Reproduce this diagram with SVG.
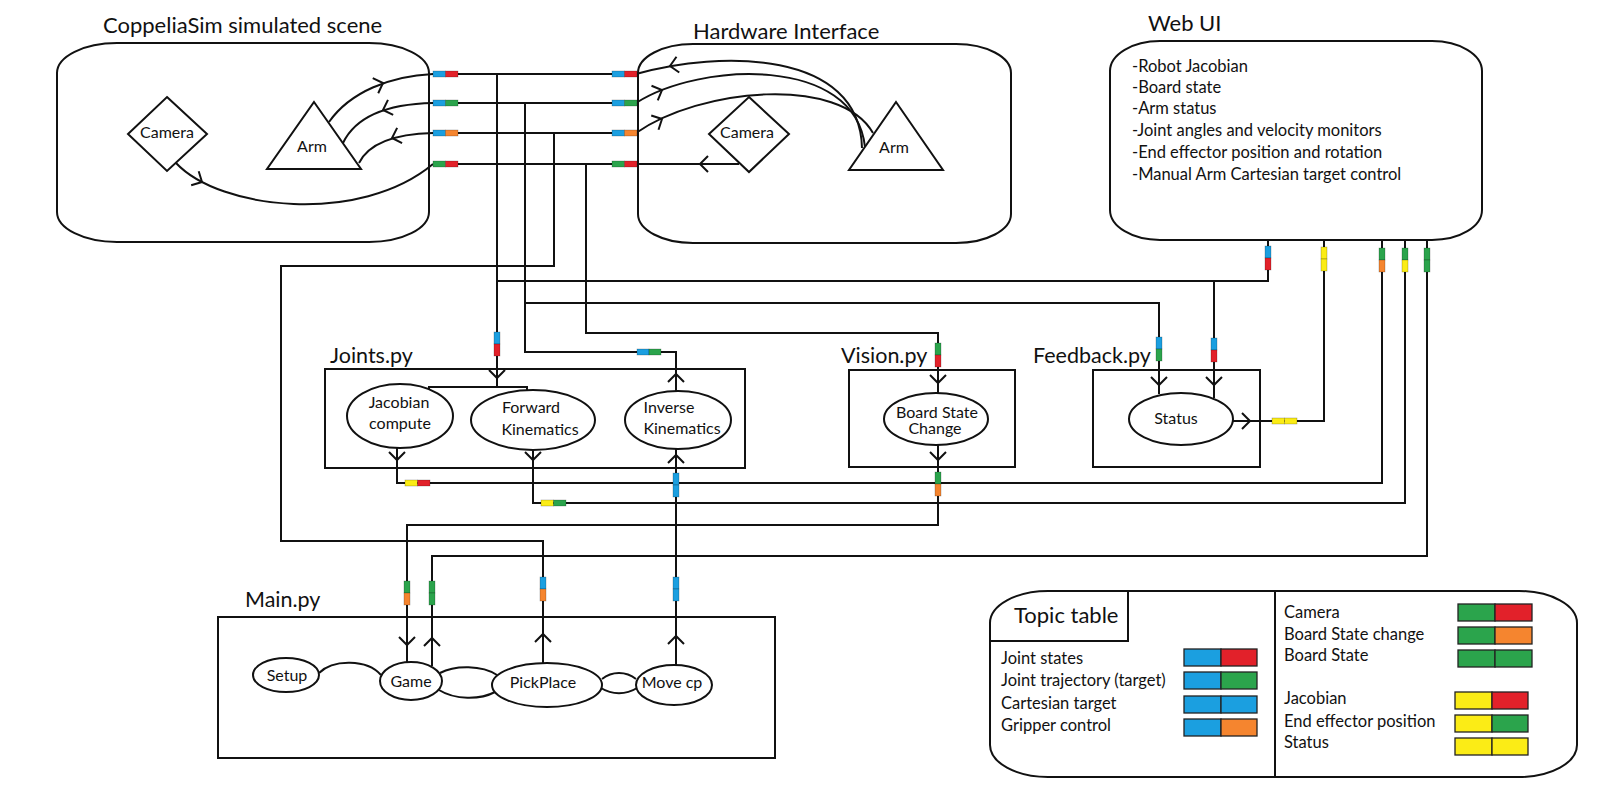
<svg xmlns="http://www.w3.org/2000/svg" xmlns:xlink="http://www.w3.org/1999/xlink" width="1600" height="798" viewBox="0 0 1600 798">
<style>
.ln{fill:none;stroke:#111;stroke-width:2}
.bx{fill:none;stroke:#111;stroke-width:2}
.sh{fill:#fff;stroke:#111;stroke-width:2}
.t{font-family:Lato,"Liberation Sans",sans-serif;font-size:16.5px;fill:#111}
.n{font-family:Lato,"Liberation Sans",sans-serif;font-size:16px;fill:#111;text-anchor:middle}
.tt{font-family:Lato,"Liberation Sans",sans-serif;font-size:22px;fill:#111}
.tm{font-family:Lato,"Liberation Sans",sans-serif;font-size:21.5px;fill:#111}
.B{fill:#1b9fe0}.R{fill:#e2212a}.G{fill:#2ba44c}.O{fill:#f5852f}.Y{fill:#fbec16}
.tg rect{stroke:rgba(0,0,0,0.35);stroke-width:0.6}
.sw rect{stroke:#222;stroke-width:1.3}
</style>
<defs>
<path id="ch" d="M-8,-8 L0,0 L-8,8" fill="none" stroke="#111" stroke-width="2"/>
</defs>
<rect width="1600" height="798" fill="#fff"/>

<g id="coppelia">
<rect class="bx" x="57" y="43" width="372" height="199" rx="60" ry="30"/>
<text class="tt" x="103" y="33">CoppeliaSim simulated scene</text>
</g>
<g id="sim-camera">
<polygon class="sh" points="167,97 207,134 167,171 128,134"/>
<text class="n" x="167" y="138">Camera</text>
</g>
<g id="sim-arm">
<polygon class="sh" points="314,102 361,169 267,169"/>
<text class="n" x="312" y="152">Arm</text>
</g>

<g id="hardware">
<rect class="bx" x="638" y="44" width="373" height="199" rx="55" ry="29"/>
<text class="tt" x="693" y="39">Hardware Interface</text>
</g>
<g id="hw-camera">
<polygon class="sh" points="749,97 789,134 749,172 709,134"/>
<text class="n" x="747" y="138">Camera</text>
</g>
<g id="hw-arm">
<polygon class="bx" points="896,102 943,170 849,170"/>
<text class="n" x="894" y="153">Arm</text>
</g>

<g id="webui">
<rect class="bx" x="1110" y="41" width="372" height="199" rx="50" ry="30"/>
<text class="tt" x="1148" y="31">Web UI</text>
<text class="t" x="1132" y="72">-Robot Jacobian</text>
<text class="t" x="1132" y="93">-Board state</text>
<text class="t" x="1132" y="114">-Arm status</text>
<text class="t" x="1132" y="136">-Joint angles and velocity monitors</text>
<text class="t" x="1132" y="158">-End effector position and rotation</text>
<text class="t" x="1132" y="180">-Manual Arm Cartesian target control</text>
</g>

<g id="joints">
<rect class="bx" x="325" y="369" width="420" height="99"/>
<text class="tm" x="330" y="363">Joints.py</text>
</g>
<g id="jacobian">
<ellipse class="bx" cx="400" cy="416" rx="53" ry="32"/>
<text class="n" x="399" y="408">Jacobian</text>
<text class="n" x="400" y="429">compute</text>
</g>
<g id="forward">
<ellipse class="bx" cx="533" cy="420" rx="62" ry="30"/>
<text class="n" x="531" y="413">Forward</text>
<text class="n" x="540" y="435">Kinematics</text>
</g>
<g id="inverse">
<ellipse class="bx" cx="678" cy="420" rx="53" ry="29"/>
<text class="n" x="669" y="413">Inverse</text>
<text class="n" x="682" y="434">Kinematics</text>
</g>

<g id="vision">
<rect class="bx" x="849" y="370" width="166" height="97"/>
<text class="tm" x="841" y="363">Vision.py</text>
</g>
<g id="boardstate">
<ellipse class="bx" cx="936" cy="419" rx="52" ry="26"/>
<text class="n" x="937" y="418">Board State</text>
<text class="n" x="935" y="434">Change</text>
</g>

<g id="feedback">
<rect class="bx" x="1093" y="370" width="167" height="97"/>
<text class="tm" x="1033" y="363">Feedback.py</text>
</g>
<g id="status">
<ellipse class="bx" cx="1181" cy="419" rx="52" ry="26"/>
<text class="n" x="1176" y="424">Status</text>
</g>

<g id="main">
<rect class="bx" x="218" y="617" width="557" height="141"/>
<text class="tm" x="245" y="607">Main.py</text>
</g>
<g id="setup">
<ellipse class="bx" cx="286" cy="675" rx="33" ry="17"/>
<text class="n" x="287" y="681">Setup</text>
</g>
<g id="game">
<ellipse class="bx" cx="411" cy="681" rx="31" ry="19"/>
<text class="n" x="411" y="687">Game</text>
</g>
<g id="pickplace">
<ellipse class="bx" cx="547" cy="685" rx="55" ry="22"/>
<text class="n" x="543" y="688">PickPlace</text>
</g>
<g id="movecp">
<ellipse class="bx" cx="674" cy="685" rx="38" ry="20"/>
<text class="n" x="672" y="688">Move cp</text>
</g>

<g id="connectors">
<path class="ln" d="M458,74 H612 M458,103 H612 M458,133 H612 M458,164 H612"/>
<path class="ln" d="M329,122 C350,92 390,76 433,74"/>
<path class="ln" d="M343,143 C355,118 385,104 433,103"/>
<path class="ln" d="M359,163 C368,145 390,134 433,133"/>
<path class="ln" d="M176,163 C220,210 360,225 433,164"/>
<path class="ln" d="M636,74 C720,50 860,50 862,148"/>
<path class="ln" d="M636,103 C700,62 855,55 865,147"/>
<path class="ln" d="M636,133 C700,88 840,75 873,133"/>
<path class="ln" d="M636,164 H739"/>
<path class="ln" d="M497,74 V387 M429,389 V387 H527 V391"/>
<path class="ln" d="M497,281 H1268 V240 M1214,281 V398"/>
<path class="ln" d="M525,103 V352 H676 V392"/>
<path class="ln" d="M525,303 H1159 V394"/>
<path class="ln" d="M554,133 V266 H281 V541 H543 V663"/>
<path class="ln" d="M586,164 V333 H938 V393"/>
<path class="ln" d="M397,448 V483 H1382 V240"/>
<path class="ln" d="M533,450 V503 H1405 V240"/>
<path class="ln" d="M938,445 V525 H407 V662"/>
<path class="ln" d="M1427,240 V556 H432 V666"/>
<path class="ln" d="M676,665 V449"/>
<path class="ln" d="M1232,421 H1324 V240"/>
<path class="ln" d="M319,673 C333,659 367,659 381,675"/>
<path class="ln" d="M440,673 C455,665 482,665 497,675 M439,690 C455,700 480,700 495,692"/>
<path class="ln" d="M602,679 C612,671 626,671 636,679 M601,688 C612,695 626,695 637,688"/>
<use href="#ch" transform="translate(383,83) rotate(-20)"/>
<use href="#ch" transform="translate(383,110) rotate(161)"/>
<use href="#ch" transform="translate(392,138) rotate(162)"/>
<use href="#ch" transform="translate(202,182) rotate(28)"/>
<use href="#ch" transform="translate(670,66) rotate(170)"/>
<use href="#ch" transform="translate(662,90) rotate(-23)"/>
<use href="#ch" transform="translate(662,119) rotate(-27)"/>
<use href="#ch" transform="translate(700,164) rotate(180)"/>
<use href="#ch" transform="translate(497,378) rotate(90)"/>
<use href="#ch" transform="translate(676,374) rotate(-90)"/>
<use href="#ch" transform="translate(397,460) rotate(90)"/>
<use href="#ch" transform="translate(533,460) rotate(90)"/>
<use href="#ch" transform="translate(676,455) rotate(-90)"/>
<use href="#ch" transform="translate(938,383) rotate(90)"/>
<use href="#ch" transform="translate(938,460) rotate(90)"/>
<use href="#ch" transform="translate(1159,385) rotate(90)"/>
<use href="#ch" transform="translate(1214,385) rotate(90)"/>
<use href="#ch" transform="translate(1250,421) rotate(0)"/>
<use href="#ch" transform="translate(407,645) rotate(90)"/>
<use href="#ch" transform="translate(432,638) rotate(-90)"/>
<use href="#ch" transform="translate(543,634) rotate(-90)"/>
<use href="#ch" transform="translate(676,636) rotate(-90)"/>
</g>

<g id="tags" class="tg">
<rect class="B" x="433" y="71" width="12.5" height="6"/><rect class="R" x="445.5" y="71" width="12.5" height="6"/>
<rect class="B" x="433" y="100" width="12.5" height="6"/><rect class="G" x="445.5" y="100" width="12.5" height="6"/>
<rect class="B" x="433" y="130" width="12.5" height="6"/><rect class="O" x="445.5" y="130" width="12.5" height="6"/>
<rect class="G" x="433" y="161" width="12.5" height="6"/><rect class="R" x="445.5" y="161" width="12.5" height="6"/>
<rect class="B" x="612" y="71" width="12.5" height="6"/><rect class="R" x="624.5" y="71" width="12.5" height="6"/>
<rect class="B" x="612" y="100" width="12.5" height="6"/><rect class="G" x="624.5" y="100" width="12.5" height="6"/>
<rect class="B" x="612" y="130" width="12.5" height="6"/><rect class="O" x="624.5" y="130" width="12.5" height="6"/>
<rect class="G" x="612" y="161" width="12.5" height="6"/><rect class="R" x="624.5" y="161" width="12.5" height="6"/>
<rect class="B" x="637" y="349" width="12" height="6"/><rect class="G" x="649" y="349" width="12" height="6"/>
<rect class="Y" x="405" y="480" width="12.5" height="6"/><rect class="R" x="417.5" y="480" width="12.5" height="6"/>
<rect class="Y" x="541" y="500" width="12.5" height="6"/><rect class="G" x="553.5" y="500" width="12.5" height="6"/>
<rect class="Y" x="1272" y="418" width="12.5" height="6"/><rect class="Y" x="1284.5" y="418" width="12.5" height="6"/>
<rect class="B" x="494" y="332" width="6" height="12"/><rect class="R" x="494" y="344" width="6" height="12"/>
<rect class="G" x="935" y="343" width="6" height="12"/><rect class="R" x="935" y="355" width="6" height="12"/>
<rect class="B" x="1156" y="337" width="6" height="12"/><rect class="G" x="1156" y="349" width="6" height="12"/>
<rect class="B" x="1211" y="338" width="6" height="12"/><rect class="R" x="1211" y="350" width="6" height="12"/>
<rect class="B" x="673" y="473" width="6" height="12"/><rect class="B" x="673" y="485" width="6" height="12"/>
<rect class="G" x="935" y="472" width="6" height="12"/><rect class="O" x="935" y="484" width="6" height="12"/>
<rect class="G" x="404" y="581" width="6" height="12"/><rect class="O" x="404" y="593" width="6" height="12"/>
<rect class="G" x="429" y="581" width="6" height="12"/><rect class="G" x="429" y="593" width="6" height="12"/>
<rect class="B" x="540" y="577" width="6" height="12"/><rect class="O" x="540" y="589" width="6" height="12"/>
<rect class="B" x="673" y="577" width="6" height="12"/><rect class="B" x="673" y="589" width="6" height="12"/>
<rect class="B" x="1265" y="246" width="6" height="12"/><rect class="R" x="1265" y="258" width="6" height="12"/>
<rect class="Y" x="1321" y="247" width="6" height="12"/><rect class="Y" x="1321" y="259" width="6" height="12"/>
<rect class="G" x="1379" y="248" width="6" height="12"/><rect class="O" x="1379" y="260" width="6" height="12"/>
<rect class="G" x="1402" y="248" width="6" height="12"/><rect class="Y" x="1402" y="260" width="6" height="12"/>
<rect class="G" x="1424" y="248" width="6" height="12"/><rect class="G" x="1424" y="260" width="6" height="12"/>
</g>

<g id="topic-table">
<rect class="bx" x="990" y="591" width="587" height="186" rx="58" ry="32"/>
<path class="ln" d="M1275,591 V777 M991,641 H1128 V591"/>
<text class="tt" x="1014" y="623">Topic table</text>
<text class="t" x="1001" y="664">Joint states</text>
<text class="t" x="1001" y="686">Joint trajectory (target)</text>
<text class="t" x="1001" y="709">Cartesian target</text>
<text class="t" x="1001" y="731">Gripper control</text>
<text class="t" x="1284" y="618">Camera</text>
<text class="t" x="1284" y="640">Board State change</text>
<text class="t" x="1284" y="661">Board State</text>
<text class="t" x="1284" y="704">Jacobian</text>
<text class="t" x="1284" y="727">End effector position</text>
<text class="t" x="1284" y="748">Status</text>
<g class="sw">
<rect class="B" x="1184" y="649" width="37" height="17"/><rect class="R" x="1221" y="649" width="36" height="17"/>
<rect class="B" x="1184" y="672" width="37" height="17"/><rect class="G" x="1221" y="672" width="36" height="17"/>
<rect class="B" x="1184" y="696" width="37" height="17"/><rect class="B" x="1221" y="696" width="36" height="17"/>
<rect class="B" x="1184" y="719" width="37" height="17"/><rect class="O" x="1221" y="719" width="36" height="17"/>
<rect class="G" x="1458" y="604" width="37" height="17"/><rect class="R" x="1495" y="604" width="37" height="17"/>
<rect class="G" x="1458" y="627" width="37" height="17"/><rect class="O" x="1495" y="627" width="37" height="17"/>
<rect class="G" x="1458" y="650" width="37" height="17"/><rect class="G" x="1495" y="650" width="37" height="17"/>
<rect class="Y" x="1455" y="692" width="37" height="17"/><rect class="R" x="1492" y="692" width="36" height="17"/>
<rect class="Y" x="1455" y="715" width="37" height="17"/><rect class="G" x="1492" y="715" width="36" height="17"/>
<rect class="Y" x="1455" y="738" width="37" height="17"/><rect class="Y" x="1492" y="738" width="36" height="17"/>
</g>
</g>
</svg>
